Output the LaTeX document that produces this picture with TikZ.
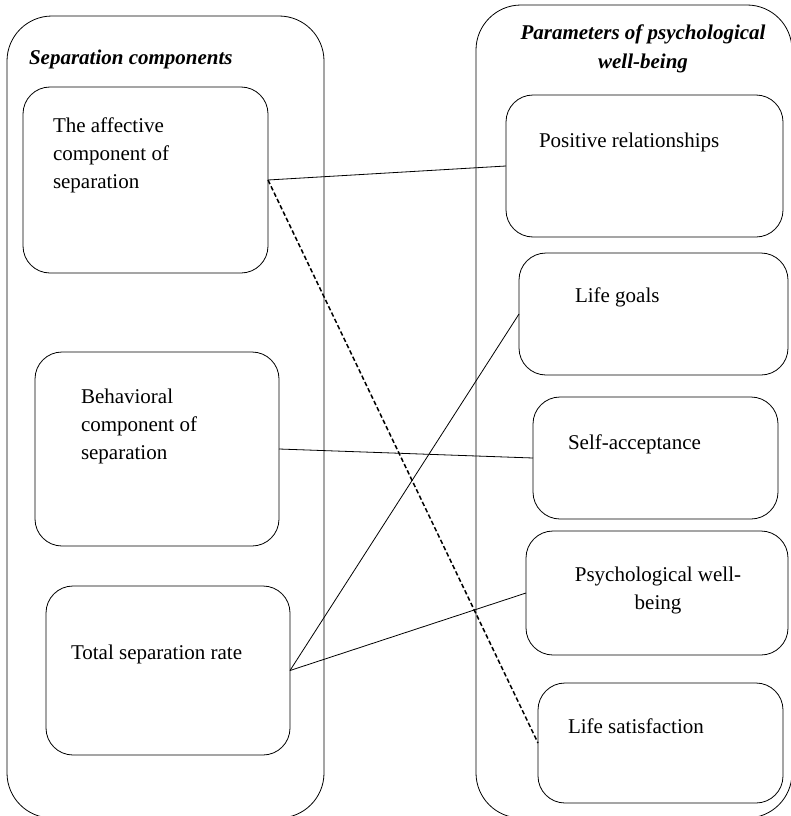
\documentclass[tikz,border=0pt]{standalone}
\usepackage{fontspec}
\setmainfont{Liberation Serif}
\begin{document}
\begin{tikzpicture}[x=1pt,y=-1pt,
  outerbox/.style={draw, line width=0.8pt, rounded corners=45pt, inner sep=0pt, outer sep=0pt},
  box/.style={draw, line width=0.8pt, rounded corners=27pt, inner sep=0pt, outer sep=0pt},
  txt/.style={inner sep=0pt, outer sep=0pt, font=\fontsize{21pt}{28pt}\selectfont, align=left},
  ttl/.style={inner sep=0pt, outer sep=0pt, font=\fontsize{21pt}{28.5pt}\selectfont\bfseries\itshape, align=center},
  link/.style={line width=0.8pt},
  dlink/.style={line width=1.5pt, dash pattern=on 4.5pt off 2.5pt}]
\useasboundingbox (0,0) rectangle (790,816);
% outer groups
\node[outerbox, minimum width=317pt, minimum height=802pt] (left) at (165.5,417) {};
\node[outerbox, minimum width=316pt, minimum height=813pt] (right) at (634,411.5) {};
% titles
\node[ttl, anchor=base west] (lt) at (29,65) {Separation components};
\node[ttl, anchor=base] (rt) at (643,68.5) {Parameters of psychological\\well-being};
% left boxes
\node[box, minimum width=245pt, minimum height=186pt] (aff) at (145.5,180) {};
\node[box, minimum width=244pt, minimum height=194pt] (beh) at (157,449) {};
\node[box, minimum width=244pt, minimum height=169pt] (tot) at (168,670.5) {};
% right boxes
\node[box, minimum width=277pt, minimum height=142pt] (pos) at (644.5,166) {};
\node[box, minimum width=269pt, minimum height=122pt] (goals) at (653.5,314) {};
\node[box, minimum width=245pt, minimum height=122pt] (self) at (655.5,458) {};
\node[box, minimum width=262pt, minimum height=124pt] (pwb) at (657,593) {};
\node[box, minimum width=245pt, minimum height=120pt] (sat) at (660.5,743) {};
% texts
\node[txt, anchor=base west] (afft) at (53,188) {The affective\\component of\\separation};
\node[txt, anchor=base west] (beht) at (81,459) {Behavioral\\component of\\separation};
\node[txt, anchor=base west] (tott) at (71,659) {Total separation rate};
\node[txt, anchor=base west] (post) at (539,147) {Positive relationships};
\node[txt, anchor=base west] (goalst) at (575,302) {Life goals};
\node[txt, anchor=base west] (selft) at (568,449) {Self-acceptance};
\node[txt, anchor=base, align=center] (pwbt) at (658,609) {Psychological well-\\being};
\node[txt, anchor=base west] (satt) at (568,733) {Life satisfaction};
% connectors
\draw[link] (aff.east) -- (pos.west);
\draw[dlink] (aff.east) -- (sat.west);
\draw[link] (beh.east) -- (self.west);
\draw[link] (tot.east) -- (goals.west);
\draw[link] (tot.east) -- (pwb.west);
\end{tikzpicture}
\end{document}
